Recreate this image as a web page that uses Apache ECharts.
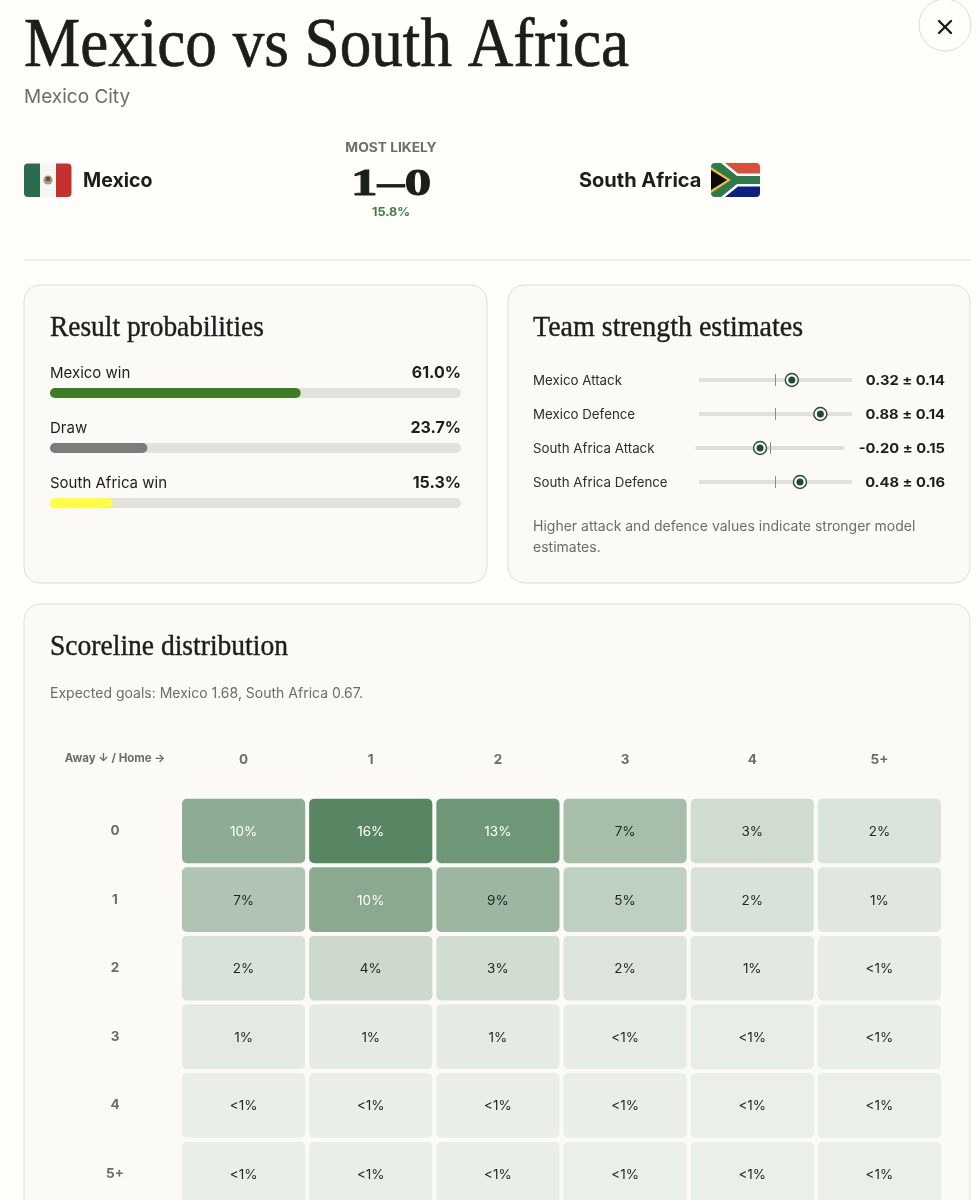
<!DOCTYPE html>
<html><head><meta charset="utf-8">
<style>html,body{margin:0;padding:0;background:#fffefa;overflow:hidden;height:1200px}#c{width:977px;height:1250px}</style>
<script src="https://cdn.jsdelivr.net/npm/echarts@6/dist/echarts.min.js"></script>
</head><body><div id="c"></div><script>
const resultLabels = ['Mexico win', 'Draw', 'South Africa win'];
const resultValues = [61.0, 23.7, 15.3];
const resultColors = ['#3a7d23', '#7b7b79', '#ffff45'];
const strengthLabels = ['Mexico Attack', 'Mexico Defence', 'South Africa Attack', 'South Africa Defence'];
const strengthValues = [0.32, 0.88, -0.20, 0.48];
const strengthErrors = [0.14, 0.14, 0.15, 0.16];
const homeGoals = ['0', '1', '2', '3', '4', '5+'];
const awayGoals = ['0', '1', '2', '3', '4', '5+'];
const away0 = [9.9, 15.8, 13.3, 7.4, 3.1, 1.8];
const away1 = [6.5, 10.4, 8.8, 4.9, 2.1, 1.4];
const away2 = [2.1, 3.6, 3.0, 1.7, 1.2, 0.7];
const away3 = [1.1, 1.0, 1.0, 0.6, 0.5, 0.3];
const away4 = [0.4, 0.4, 0.3, 0.3, 0.2, 0.2];
const away5 = [0.3, 0.3, 0.3, 0.2, 0.2, 0.2];
const scoreRows = [away0, away1, away2, away3, away4, away5];

const BODY = 'Inter, sans-serif', SERIF = '"Liberation Serif", serif';
const INK = '#1a1f19', GREY = '#696e68', CARD = '#fbfaf7', LINE = '#dfded4', PAGE = '#fffefa', DARK = '#1f4a38';

const txt = (x, y, text, size, fill, weight, align, family, scaleX, bolden) => ({
  type: 'text', x, y, scaleX: scaleX || 1, silent: true, z: 5,
  style: { text, fill, align: align || 'left', verticalAlign: 'middle', font: (weight || 400) + ' ' + size + 'px ' + (family || BODY),
    stroke: bolden ? fill : null, lineWidth: bolden || 0 }
});
const card = (x, y, w, h) => ({ type: 'rect', z: 0, silent: true, shape: { x, y, width: w, height: h, r: 16 }, style: { fill: CARD, stroke: LINE, lineWidth: 1 } });
const rect = (x, y, width, height, fill, r) => ({ type: 'rect', silent: true, shape: { x, y, width, height, r: r || 0 }, style: { fill } });
const poly = (points, fill) => ({ type: 'polygon', silent: true, shape: { points }, style: { fill } });

const mexicoFlag = { type: 'group', x: 24, y: 163.5, z: 4, children: [
  rect(0, 0, 16, 33.5, '#2a6a4e', [4, 0, 0, 4]),
  rect(16, 0, 16, 33.5, '#f6f6f2'),
  rect(32, 0, 15.5, 33.5, '#c6302f', [0, 4, 4, 0]),
  { type: 'circle', silent: true, shape: { cx: 24, cy: 16.5, r: 4.6 }, style: { fill: '#a89a80' } },
  { type: 'circle', silent: true, shape: { cx: 24, cy: 15.5, r: 2.4 }, style: { fill: '#6d5238' } }
]};
const africaFlag = { type: 'group', x: 711, y: 163, z: 4, children: [
  rect(0, 0, 49, 17, '#d9503a'),
  rect(0, 17, 49, 17, '#0b2080'),
  poly([[0, 0], [14, 0], [27, 10.5], [49, 10.5], [49, 23.5], [27, 23.5], [14, 34], [0, 34]], '#ffffff'),
  poly([[0, 0], [10, 0], [26, 13], [49, 13], [49, 21], [26, 21], [10, 34], [0, 34]], '#2f7a4c'),
  poly([[0, 4], [20, 17], [0, 30]], '#f0b93a'),
  poly([[0, 7], [16, 17], [0, 27]], '#0b0b0b'),
  { type: 'rect', silent: true, shape: { x: -1, y: -1, width: 51, height: 36, r: 5 }, style: { fill: 'none', stroke: PAGE, lineWidth: 2 } }
]};

const graphics = [
  { type: 'line', silent: true, shape: { x1: 24, y1: 260, x2: 971, y2: 260 }, style: { stroke: LINE, lineWidth: 1 } },
  card(24, 285, 463, 298), card(508, 285, 462, 298), card(24, 604, 946, 640),
  { type: 'circle', silent: true, shape: { cx: 945, cy: 25, r: 26 }, style: { fill: PAGE, stroke: '#dcdcd6', lineWidth: 1 } },
  { type: 'line', silent: true, z: 5, shape: { x1: 939, y1: 21, x2: 951, y2: 33 }, style: { stroke: INK, lineWidth: 2.4, lineCap: 'round' } },
  { type: 'line', silent: true, z: 5, shape: { x1: 951, y1: 21, x2: 939, y2: 33 }, style: { stroke: INK, lineWidth: 2.4, lineCap: 'round' } },
  txt(24, 48, 'Mexico vs South Africa', 70, INK, 400, 'left', SERIF, 0.902, 0.7),
  txt(24, 97, 'Mexico City', 19, GREY),
  mexicoFlag, africaFlag,
  txt(83, 181, 'Mexico', 19.5, INK, 700),
  txt(579, 181, 'South Africa', 20, INK, 700),
  txt(391, 148, 'MOST LIKELY', 12.5, GREY, 700, 'center', BODY, 1.1),
  txt(391, 185, '1–0', 37, INK, 700, 'center', SERIF, 1.45, 0.8),
  txt(391, 212, '15.8%', 12, '#3d7d4a', 700, 'center', BODY, 1.05),
  txt(50, 328, 'Result probabilities', 29, INK, 400, 'left', SERIF, 0.945, 0.4),
  txt(533, 328, 'Team strength estimates', 29, INK, 400, 'left', SERIF, 0.965, 0.4),
  txt(50, 647, 'Scoreline distribution', 29, INK, 400, 'left', SERIF, 0.95, 0.4),
  txt(533, 527, 'Higher attack and defence values indicate stronger model', 14, GREY),
  txt(533, 548, 'estimates.', 14, GREY),
  txt(50, 694, 'Expected goals: Mexico 1.68, South Africa 0.67.', 14, GREY),
  txt(115, 759, 'Away ↓ / Home →', 11.5, GREY, 700, 'center')
];
resultLabels.forEach((l, i) => {
  graphics.push(txt(50, 373.5 + 55 * i, l, 15, INK));
  graphics.push(txt(461, 373.5 + 55 * i, resultValues[i].toFixed(1) + '%', 16, INK, 700, 'right'));
});

const trackLeft = [699, 699, 695.5, 699], trackWidth = [153, 153, 149, 153], rowY = [380, 414, 448, 482];
const grids = [{ left: 50, top: 365.5, width: 411, height: 165 }];
const xAxes = [{ gridIndex: 0, type: 'value', min: 0, max: 100, show: false }];
const yAxes = [{ gridIndex: 0, type: 'category', inverse: true, data: resultLabels, show: false }];
const series = [{
  type: 'bar', xAxisIndex: 0, yAxisIndex: 0, barWidth: 10, showBackground: true,
  backgroundStyle: { color: '#e2e1da', borderRadius: 5 },
  itemStyle: { borderRadius: 5 }, silent: true,
  data: resultValues.map((v, i) => ({ value: v, itemStyle: { color: resultColors[i] } }))
}];
strengthLabels.forEach((l, i) => {
  const g = i + 1;
  grids.push({ left: trackLeft[i], top: rowY[i] - 6, width: trackWidth[i], height: 12 });
  xAxes.push({ gridIndex: g, type: 'value', min: -1.5, max: 1.5, show: false });
  yAxes.push({ gridIndex: g, type: 'category', data: [l], show: false });
  series.push({
    type: 'line', xAxisIndex: g, yAxisIndex: g, symbol: 'none', silent: true,
    lineStyle: { color: '#e0dfd8', width: 4, cap: 'butt' }, data: [[-1.5, l], [1.5, l]],
    markLine: { silent: true, symbol: 'none', label: { show: false }, lineStyle: { color: '#8c8c86', width: 1, type: 'solid' }, data: [{ xAxis: 0 }] }
  });
  series.push({ type: 'scatter', xAxisIndex: g, yAxisIndex: g, silent: true, symbolSize: 13, z: 3, clip: false,
    itemStyle: { color: CARD, borderColor: DARK, borderWidth: 1.4, opacity: 1 }, data: [[strengthValues[i], l]] });
  series.push({ type: 'scatter', xAxisIndex: g, yAxisIndex: g, silent: true, symbolSize: 7, z: 4, clip: false,
    itemStyle: { color: DARK, opacity: 1 }, data: [[strengthValues[i], l]] });
  graphics.push(txt(533, rowY[i] + 1, l, 13.3, '#2a2f29'));
  graphics.push(txt(945, rowY[i] + 1, strengthValues[i].toFixed(2) + ' ± ' + strengthErrors[i].toFixed(2), 13.5, INK, 700, 'right', BODY, 1.09));
});

const hg = grids.length;
grids.push({ left: 180, top: 796.7, width: 763, height: 411.6 });
const heatAxis = { gridIndex: hg, type: 'category', axisLine: { show: false }, axisTick: { show: false }, splitLine: { show: false } };
const heatLabel = { color: GREY, fontFamily: BODY, fontWeight: 700, fontSize: 13.5 };
xAxes.push({ ...heatAxis, position: 'top', data: homeGoals, axisLabel: { ...heatLabel, margin: 30 } });
yAxes.push({ ...heatAxis, inverse: true, data: awayGoals, axisLabel: { ...heatLabel, margin: 65, align: 'center', padding: [2, 0, 0, 0] } });
const heatData = [];
scoreRows.forEach((row, y) => row.forEach((v, x) => heatData.push([x, y, v])));
const heatIndex = series.length;
series.push({
  type: 'custom', xAxisIndex: hg, yAxisIndex: hg, silent: true, data: heatData,
  encode: { x: 0, y: 1, tooltip: 2 }, clip: false,
  renderItem(params, api) {
    const c = api.coord([api.value(0), api.value(1)]);
    const s = api.size([1, 1]);
    const v = api.value(2);
    return {
      type: 'rect',
      shape: { x: c[0] - s[0] / 2 + 2, y: c[1] - s[1] / 2 + 2, width: s[0] - 4, height: s[1] - 4, r: 5 },
      style: { fill: api.visual('color') },
      textContent: { type: 'text', style: {
        text: v < 1 ? '<1%' : Math.round(v) + '%',
        fill: v >= 9.5 ? '#ffffff' : '#1f261f',
        font: '400 13.5px ' + BODY } },
      textConfig: { position: 'inside', offset: [0, 1] }
    };
  }
});

const chart = echarts.init(document.getElementById('c'), null, { renderer: 'canvas', width: 977, height: 1250 });
chart.setOption({
  animation: false, backgroundColor: PAGE,
  grid: grids, xAxis: xAxes, yAxis: yAxes, series,
  visualMap: { show: false, seriesIndex: heatIndex, dimension: 2, min: 0, max: 16,
    inRange: { color: ['#ecf0ea', '#e5eae4', '#d9e2d9', '#d2ddd2', '#c9d7ca', '#bdcfbf', '#b3c7b6', '#aac0ae', '#a3bba7', '#9bb5a1', '#8dab91', '#87a68c', '#7c9f81', '#70997a', '#669270', '#5e8c68', '#568560'] } },
  graphic: { elements: graphics }
});
</script></body></html>
